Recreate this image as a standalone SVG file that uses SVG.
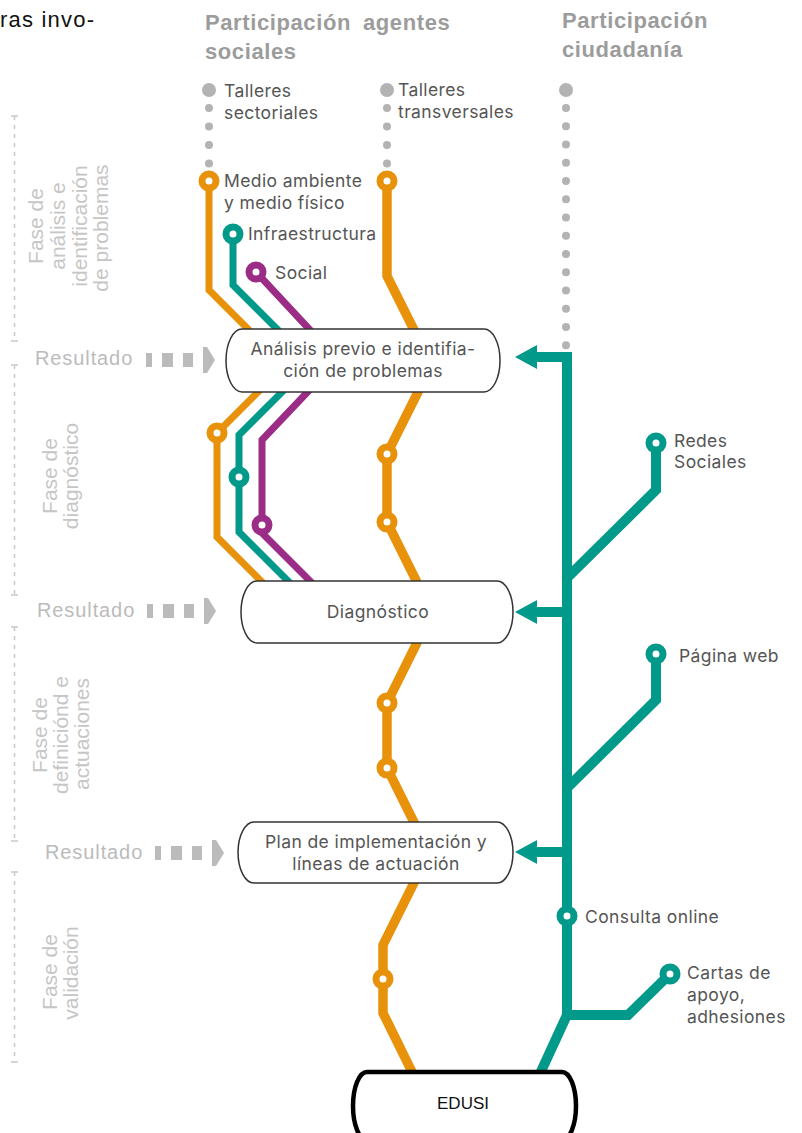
<svg xmlns="http://www.w3.org/2000/svg" width="802" height="1133" viewBox="0 0 802 1133">
<style>
text{font-family:"Liberation Sans",Arial,sans-serif}
.lbl{font-family:Inter,"Liberation Sans",sans-serif;font-size:17.5px;fill:#555;letter-spacing:0.4px}
.btx{font-family:Inter,"Liberation Sans",sans-serif;font-size:17.5px;fill:#555;letter-spacing:0.4px;text-anchor:middle}
.hd{font-size:22px;font-weight:bold;fill:#9c9c9c;letter-spacing:0.6px}
.ph{font-size:21px;fill:#c6c6c6;text-anchor:middle}
.res{font-size:20px;fill:#bbb;letter-spacing:0.9px}
.box{fill:#fff;stroke:#333;stroke-width:1.5}
.or{fill:none;stroke:#E8920C;stroke-linejoin:miter}
.te{fill:none;stroke:#00998A;stroke-linejoin:miter}
.pu{fill:none;stroke:#9B2D86;stroke-width:7}
.so{fill:#fff;stroke:#E8920C;stroke-width:7}
.st{fill:#fff;stroke:#00998A;stroke-width:7}
.sp{fill:#fff;stroke:#9B2D86;stroke-width:7}
.gd{fill:#b3b3b3}
.gl{stroke:#b3b3b3;stroke-width:8;stroke-linecap:round;fill:none}
.dash{stroke:#c8c8c8;stroke-width:1.5;stroke-dasharray:4 5;fill:none}
.tick{stroke:#c8c8c8;stroke-width:1.5}
.ra{fill:#bbb}
</style>
<defs>
<g id="resarrow">
<rect class="ra" x="0" y="-7" width="6" height="14"/>
<rect class="ra" x="16" y="-7" width="11" height="14"/>
<rect class="ra" x="37" y="-7" width="10" height="14"/>
<polygon class="ra" points="57,-13 61,-13 69,0 61,13 57,13"/>
</g>
</defs>

<g id="title">
<text x="0" y="27" style="font-size:22px;fill:#111;letter-spacing:1.2px">ras invo-</text>
</g>

<g id="headings">
<text class="hd" x="205" y="30">Participación<tspan x="363">agentes</tspan></text>
<text class="hd" x="205" y="59">sociales</text>
<text class="hd" x="562" y="28">Participación</text>
<text class="hd" x="562" y="57">ciudadanía</text>
</g>

<g id="phases">
<line class="dash" x1="14.5" y1="116" x2="14.5" y2="341"/>
<line class="tick" x1="11" y1="116" x2="18" y2="116"/><line class="tick" x1="11" y1="341" x2="18" y2="341"/>
<line class="dash" x1="14.5" y1="365" x2="14.5" y2="595"/>
<line class="tick" x1="11" y1="365" x2="18" y2="365"/><line class="tick" x1="11" y1="595" x2="18" y2="595"/>
<line class="dash" x1="14.5" y1="627" x2="14.5" y2="841"/>
<line class="tick" x1="11" y1="627" x2="18" y2="627"/><line class="tick" x1="11" y1="841" x2="18" y2="841"/>
<line class="dash" x1="14.5" y1="872" x2="14.5" y2="1062"/>
<line class="tick" x1="11" y1="872" x2="18" y2="872"/><line class="tick" x1="11" y1="1062" x2="18" y2="1062"/>

<text class="ph" transform="translate(43,226) rotate(-90)">Fase de</text>
<text class="ph" transform="translate(65,226) rotate(-90)">análisis e</text>
<text class="ph" transform="translate(87,226) rotate(-90)">identificación</text>
<text class="ph" transform="translate(108,228) rotate(-90)">de problemas</text>

<text class="ph" transform="translate(57,476) rotate(-90)">Fase de</text>
<text class="ph" transform="translate(78,476) rotate(-90)">diagnóstico</text>

<text class="ph" transform="translate(47,735) rotate(-90)">Fase de</text>
<text class="ph" transform="translate(68,735) rotate(-90)">definiciónd e</text>
<text class="ph" transform="translate(89,734) rotate(-90)">actuaciones</text>

<text class="ph" transform="translate(57,972) rotate(-90)">Fase de</text>
<text class="ph" transform="translate(78,973) rotate(-90)">validación</text>
</g>

<g id="resultados">
<text class="res" x="35" y="365">Resultado</text>
<use href="#resarrow" x="146" y="360"/>
<text class="res" x="37" y="617">Resultado</text>
<use href="#resarrow" x="147" y="611"/>
<text class="res" x="45" y="859">Resultado</text>
<use href="#resarrow" x="155" y="853"/>
</g>

<g id="connectors">
<circle class="gd" cx="209" cy="90" r="7"/>
<circle class="gd" cx="387" cy="90" r="7"/>
<circle class="gd" cx="566" cy="90" r="7"/>
<line class="gl" x1="209" y1="108" x2="209" y2="164" stroke-dasharray="0 18.5"/>
<line class="gl" x1="387" y1="108" x2="387" y2="164" stroke-dasharray="0 18.5"/>
<line class="gl" x1="566" y1="108" x2="566" y2="346" stroke-dasharray="0 18.25"/>

<path class="or" stroke-width="7" d="M209,181 V290 L284.5,365.5 L217,433 V537 L277,597"/>
<path class="te" stroke-width="7" d="M233,234 V285 L311,363 L239,435 V532 L304,597"/>
<path class="pu" d="M256,272 L338,360 L262,440 V533 L326,597"/>

<path class="or" stroke-width="9.5" d="M387,181 V276 L431.5,365 L387,454 V522 L432,612.5 L387,703 V768 L429,852.5 L383,945 V1013 L415,1078"/>

<path class="te" stroke-width="10" d="M537,357 H567 V1015 L538,1078"/>
<path class="te" stroke-width="10" d="M537,612 H567"/>
<path class="te" stroke-width="10" d="M537,852 H567"/>
<polygon fill="#00998A" points="515,357 537,345 537,369"/>
<polygon fill="#00998A" points="515,612 537,600 537,624"/>
<polygon fill="#00998A" points="515,852 537,840 537,864"/>
<path class="te" stroke-width="10" d="M656,443 V490 L567,578"/>
<path class="te" stroke-width="10" d="M656,654 V700 L567,788"/>
<path class="te" stroke-width="10" d="M670,974 L628,1015 H567"/>
</g>

<g id="stations">
<circle class="so" cx="209" cy="181" r="7"/>
<circle class="so" cx="387" cy="181" r="7"/>
<circle class="st" cx="233" cy="234" r="7"/>
<circle class="sp" cx="256" cy="272" r="7"/>
<circle class="so" cx="217" cy="433" r="7"/>
<circle class="st" cx="239" cy="477" r="7"/>
<circle class="sp" cx="262" cy="525" r="7"/>
<circle class="so" cx="387" cy="454" r="7"/>
<circle class="so" cx="387" cy="522" r="7"/>
<circle class="so" cx="387" cy="703" r="7"/>
<circle class="so" cx="387" cy="768" r="7"/>
<circle class="so" cx="383" cy="979" r="7"/>
<circle class="st" cx="656" cy="443" r="7"/>
<circle class="st" cx="656" cy="654" r="7"/>
<circle class="st" cx="567" cy="916" r="7"/>
<circle class="st" cx="670" cy="974" r="7"/>
</g>

<g id="labels">
<text class="lbl" x="224" y="97">Talleres</text>
<text class="lbl" x="224" y="119">sectoriales</text>
<text class="lbl" x="398" y="96">Talleres</text>
<text class="lbl" x="398" y="118">transversales</text>
<text class="lbl" x="224" y="187">Medio ambiente</text>
<text class="lbl" x="224" y="209">y medio físico</text>
<text class="lbl" x="248" y="240">Infraestructura</text>
<text class="lbl" x="275" y="279">Social</text>
<text class="lbl" x="674" y="447">Redes</text>
<text class="lbl" x="674" y="468">Sociales</text>
<text class="lbl" x="679" y="662">Página web</text>
<text class="lbl" x="585" y="923">Consulta online</text>
<text class="lbl" x="687" y="979">Cartas de</text>
<text class="lbl" x="687" y="1001">apoyo,</text>
<text class="lbl" x="687" y="1023">adhesiones</text>
</g>

<g id="node-analisis">
<path class="box" d="M242,329 H484 A16,31.5 0 0 1 484,392 H242 A16,31.5 0 0 1 242,329 Z"/>
<text class="btx" x="363" y="355">Análisis previo e identifia-</text>
<text class="btx" x="363" y="377">ción de problemas</text>
</g>

<g id="node-diagnostico">
<path class="box" d="M257,581 H497 A16,31 0 0 1 497,643 H257 A16,31 0 0 1 257,581 Z"/>
<text class="btx" x="378" y="618">Diagnóstico</text>
</g>

<g id="node-plan">
<path class="box" d="M254,822 H497 A16,30.5 0 0 1 497,883 H254 A16,30.5 0 0 1 254,822 Z"/>
<text class="btx" x="376" y="848">Plan de implementación y</text>
<text class="btx" x="376" y="870">líneas de actuación</text>
</g>

<g id="node-edusi">
<path d="M367,1072 H562 A14,34 0 0 1 562,1140 H367 A14,34 0 0 1 367,1072 Z" fill="#fff" stroke="#000" stroke-width="4.5"/>
<text x="463" y="1109" style="font-size:17px;fill:#111;text-anchor:middle">EDUSI</text>
</g>
</svg>
